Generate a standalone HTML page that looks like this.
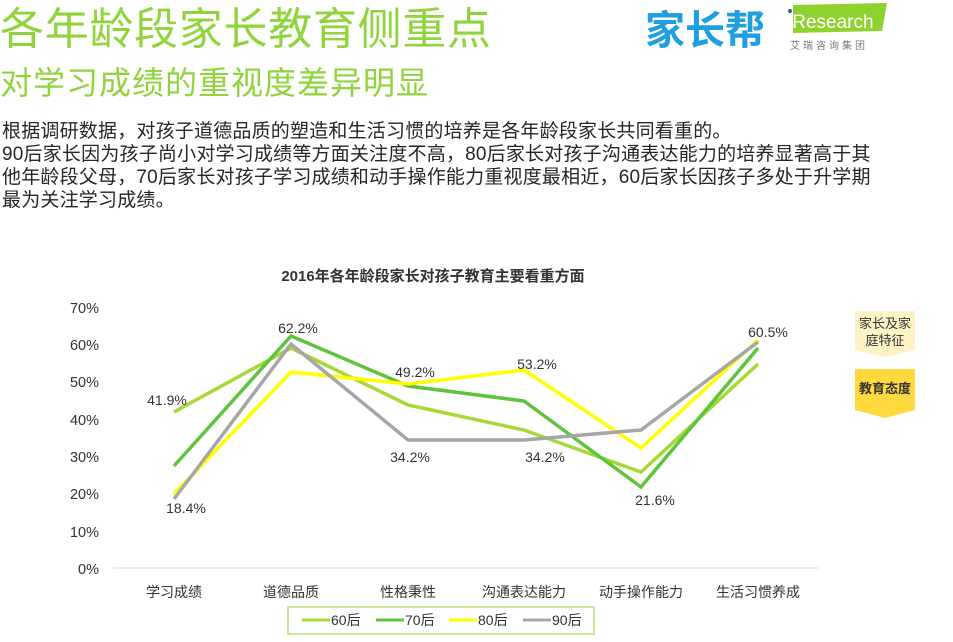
<!DOCTYPE html>
<html><head><meta charset="utf-8"><style>
html,body{margin:0;padding:0;background:#fff;}
body{width:953px;height:642px;position:relative;overflow:hidden;font-family:"Liberation Sans","Noto Sans CJK SC",sans-serif;}
.t1{position:absolute;left:0;top:2px;font-size:44px;color:#8fd43a;white-space:nowrap;line-height:56px;letter-spacing:0.7px}
.t2{position:absolute;left:0;top:62px;font-size:32px;color:#8fd43a;white-space:nowrap;line-height:42px;letter-spacing:1px}
.body{position:absolute;left:2px;top:120px;font-size:19px;color:#262626;line-height:23px;white-space:nowrap;letter-spacing:0.2px}
</style></head><body>
<div class="t1">各年龄段家长教育侧重点</div>
<div class="t2">对学习成绩的重视度差异明显</div>
<div class="body">根据调研数据，对孩子道德品质的塑造和生活习惯的培养是各年龄段家长共同看重的。<br>90后家长因为孩子尚小对学习成绩等方面关注度不高，80后家长对孩子沟通表达能力的培养显著高于其<br>他年龄段父母，70后家长对孩子学习成绩和动手操作能力重视度最相近，60后家长因孩子多处于升学期<br>最为关注学习成绩。</div>
<svg width="953" height="642" style="position:absolute;left:0;top:0" font-family="Liberation Sans, Noto Sans CJK SC, sans-serif">
<text x="645" y="44" font-size="40" font-weight="bold" fill="#1e9fe0">家长帮</text>
<polygon points="793,5 887,3 882,31 793,33" fill="#8fd12f"/>
<text x="788" y="28" font-size="19" fill="#fff">iResearch</text>
<circle cx="790" cy="11" r="2" fill="#1e5fb0"/>
<text x="790" y="49" font-size="10" fill="#777" letter-spacing="3">艾瑞咨询集团</text>
<text x="433" y="281" font-size="15" font-weight="bold" fill="#333" text-anchor="middle">2016年各年龄段家长对孩子教育主要看重方面</text>
<g font-size="14.5" fill="#333" text-anchor="end">
<text x="99" y="313">70%</text><text x="99" y="350">60%</text><text x="99" y="387">50%</text><text x="99" y="425">40%</text><text x="99" y="462">30%</text><text x="99" y="499">20%</text><text x="99" y="537">10%</text><text x="99" y="574">0%</text>
</g>
<line x1="113" y1="568" x2="818" y2="568" stroke="#d9d9d9" stroke-width="1"/>
<g font-size="14" fill="#333" text-anchor="middle">
<text x="174" y="597">学习成绩</text><text x="291" y="597">道德品质</text><text x="408" y="597">性格秉性</text><text x="524" y="597">沟通表达能力</text><text x="641" y="597">动手操作能力</text><text x="758" y="597">生活习惯养成</text>
</g>
<g fill="none" stroke-width="3.5" stroke-linejoin="miter">
<polyline stroke="#a6d936" points="174,412 291,348 408,405 524,430 641,472 758,364"/>
<polyline stroke="#5ec43c" points="174,466 291,336 408,386 524,401 641,487 758,348"/>
<polyline stroke="#ffff00" points="174,494 291,372 408,384 524,370 641,448 758,340"/>
<polyline stroke="#a6a6a6" points="174,499 291,344 408,440 524,440 641,430 758,342"/>
</g>
<g font-size="14" fill="#333" text-anchor="middle">
<text x="167" y="405">41.9%</text>
<text x="186" y="513">18.4%</text>
<text x="298" y="333">62.2%</text>
<text x="415" y="377">49.2%</text>
<text x="410" y="462">34.2%</text>
<text x="537" y="369">53.2%</text>
<text x="545" y="462">34.2%</text>
<text x="655" y="505">21.6%</text>
<text x="768" y="337">60.5%</text>
</g>
<polygon points="855,311 915,311 915,350 885,357 855,350" fill="#fff2c5"/>
<text x="885" y="328" font-size="13" fill="#333" text-anchor="middle">家长及家</text>
<text x="885" y="345" font-size="13" fill="#333" text-anchor="middle">庭特征</text>
<polygon points="855,369 915,369 915,410 885,418 855,410" fill="#ffd93d"/>
<text x="885" y="393" font-size="13" font-weight="bold" fill="#333" text-anchor="middle">教育态度</text>
<rect x="288" y="607" width="306" height="27" fill="#fff" stroke="#b5e07a" stroke-width="1.5"/>
<g stroke-width="3">
<line x1="302" y1="620" x2="330" y2="620" stroke="#a6d936"/>
<line x1="376" y1="620" x2="404" y2="620" stroke="#5ec43c"/>
<line x1="449" y1="620" x2="477" y2="620" stroke="#ffff00"/>
<line x1="523" y1="620" x2="551" y2="620" stroke="#a6a6a6"/>
</g>
<g font-size="14" fill="#333">
<text x="331" y="625">60后</text><text x="405" y="625">70后</text><text x="478" y="625">80后</text><text x="552" y="625">90后</text>
</g>
</svg>
</body></html>
